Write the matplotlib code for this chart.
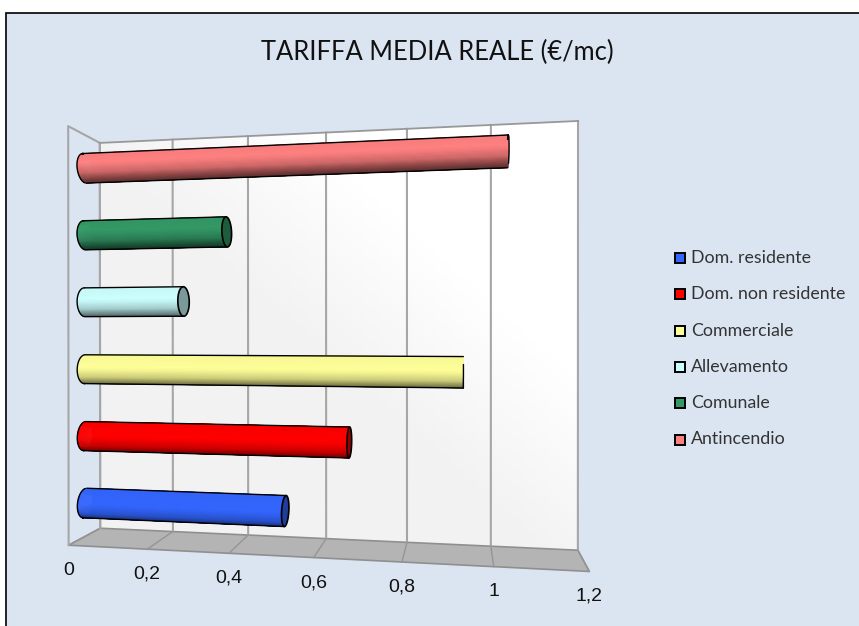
#!/usr/bin/env python3
# 3D-looking cylinder bar chart, drawn through a small camera matrix
import numpy as np
import matplotlib
matplotlib.use("Agg")
import matplotlib.pyplot as plt
from matplotlib.collections import PolyCollection
from matplotlib.patches import Polygon, Rectangle
from matplotlib.colors import to_rgb

W, H = 859, 626

categories = ["Dom. residente", "Dom. non residente", "Commerciale",
              "Allevamento", "Comunale", "Antincendio"]
values = [0.515, 0.67, 0.935, 0.26, 0.37, 1.035]
colors = ["#3366FF", "#FF0000", "#FFFF99", "#CCFFFF", "#339966", "#FF8080"]
tick_values = [0, 0.2, 0.4, 0.6, 0.8, 1.0, 1.2]
tick_labels = ["0", "0,2", "0,4", "0,6", "0,8", "1", "1,2"]
title = "TARIFFA MEDIA REALE (€/mc)"

# camera fit: (value, category, depth) -> pixel
back_y = 6
refs = [
    (0, 0, 0, 100, 528), (0.2, 0, 0, 173, 532), (0.4, 0, 0, 248, 535),
    (0.6, 0, 0, 326, 539), (0.8, 0, 0, 407, 543), (1.0, 0, 0, 491, 546),
    (1.2, 0, 0, 578, 549), (0, back_y, 0, 100, 143), (1.2, back_y, 0, 578, 121),
    (0, 0, 1, 68, 545), (0.2, 0, 1, 148, 549), (0.4, 0, 1, 230, 553),
    (0.8, 0, 1, 401, 562), (1.0, 0, 1, 493, 567), (1.2, 0, 1, 590, 572),
    (0, back_y, 1, 68, 126),
]
A, b = [], []
for v, c, d, x, y in refs:
    A.append([v, c, d, 1, 0, 0, 0, 0, -x*v, -x*c, -x*d])
    A.append([0, 0, 0, 0, v, c, d, 1, -y*v, -y*c, -y*d])
    b += [x, y]
sol = np.linalg.lstsq(np.array(A, float), np.array(b, float), rcond=None)[0]
P = np.append(sol, 1.0).reshape(3, 4)


def project(v, c, d):
    v, c, d = np.broadcast_arrays(np.asarray(v, float), np.asarray(c, float), np.asarray(d, float))
    pts = np.stack([v, c, d, np.ones_like(v)], axis=-1) @ P.T
    return pts[..., :2] / pts[..., 2:]


def shade(col, t):
    # t=0 at the top of the tube, t=1 at the bottom
    k = np.interp(t, [0, 0.45, 0.75, 1], [0.97, 1.0, 0.8, 0.38])
    return tuple(np.array(to_rgb(col)) * k)


def signed_area(p):
    x, y = p[:, 0], p[:, 1]
    return 0.5*np.sum(x*np.roll(y, -1) - np.roll(x, -1)*y)


fig = plt.figure(figsize=(W/100, H/100), dpi=100, facecolor="white")
ax = fig.add_axes([0, 0, 1, 1])
ax.set_xlim(0, W)
ax.set_ylim(H, 0)
ax.axis("off")

# panel
ax.add_patch(Rectangle((6, 13), W, H, fc="#DBE5F1", ec="black", lw=1.2, zorder=0))

# back wall with its soft gradient
wall = np.vstack([project(0, 0, 0), project(1.2, 0, 0), project(1.2, back_y, 0), project(0, back_y, 0)])
gx, gy = np.meshgrid(np.linspace(0, 1, 80), np.linspace(0, 1, 80))
grad = np.clip((gx + (1-gy)) - 0.9, 0, 1)
im = ax.imshow(grad, extent=(100, 578, 549, 121), cmap=matplotlib.colors.LinearSegmentedColormap.from_list(
    "wall", ["#F2F2F2", "#FFFFFF"]), vmin=0, vmax=0.5, aspect="auto", zorder=1)
im.set_clip_path(Polygon(wall, transform=ax.transData))
ax.set_xlim(0, W)
ax.set_ylim(H, 0)

# floor
floor = np.vstack([project(0, 0, 0), project(1.2, 0, 0), project(1.2, 0, 1), project(0, 0, 1)])
ax.add_patch(Polygon(floor, fc="#B4B4B4", ec="#8F8F8F", lw=1.2, zorder=2))

grid_col = "#A6A6A6"
for v in tick_values:
    p = np.vstack([project(v, back_y, 0), project(v, 0, 0), project(v, 0, 1)])
    ax.plot(p[:2, 0], p[:2, 1], color=grid_col, lw=1.5, zorder=2)
    ax.plot(p[1:, 0], p[1:, 1], color="#959595", lw=1.0, zorder=2)
p = np.vstack([project(0, 0, 1), project(0, back_y, 1), project(0, back_y, 0), project(0, 0, 0)])
ax.plot(p[:, 0], p[:, 1], color=grid_col, lw=1.5, zorder=2)
p = np.vstack([project(0, back_y, 0), project(1.2, back_y, 0)])
ax.plot(p[:, 0], p[:, 1], color="#989898", lw=1.3, zorder=2)

# cylinders
rc, rd = 0.215, 0.24
theta = np.linspace(0, 2*np.pi, 91)
for i, (val, col) in enumerate(zip(values, colors)):
    c0 = i + 0.5
    ct = c0 + rc*np.sin(theta)
    dt = 0.5 + rd*np.cos(theta)
    start = project(0, ct, dt)
    end = project(val, ct, dt)
    polys, cols, depth = [], [], []
    for k in range(len(theta)-1):
        polys.append([start[k], end[k], end[k+1], start[k+1]])
        cols.append(shade(col, (1 - np.sin(theta[k]))/2))
        depth.append(dt[k])
    order = np.argsort(depth)
    ax.add_collection(PolyCollection([polys[j] for j in order], facecolors=[cols[j] for j in order],
                                     edgecolors=[cols[j] for j in order], linewidths=0.4, zorder=3))
    # silhouette
    ca, cb = project(0, c0, 0.5), project(val, c0, 0.5)
    axis_dir = (cb - ca)/np.linalg.norm(cb - ca)
    normal = np.array([-axis_dir[1], axis_dir[0]])
    s_top, s_bot = np.argmin((start - ca) @ normal), np.argmax((start - ca) @ normal)
    e_top, e_bot = np.argmin((end - cb) @ normal), np.argmax((end - cb) @ normal)
    edge = dict(color="black", lw=1.0, zorder=5, solid_capstyle="round")
    ax.plot([start[s_top, 0], end[e_top, 0]], [start[s_top, 1], end[e_top, 1]], **edge)
    ax.plot([start[s_bot, 0], end[e_bot, 0]], [start[s_bot, 1], end[e_bot, 1]], **edge)
    left = start[(start - ca) @ axis_dir <= 0.01]
    left = left[np.argsort((left - ca) @ normal)]
    ax.plot(left[:, 0], left[:, 1], **edge)
    if signed_area(end)*signed_area(start) > 0:
        ax.add_patch(Polygon(end, fc=tuple(np.array(to_rgb(col))*0.6), ec="black", lw=1.2, zorder=4))
    else:
        right = end[(end - cb) @ axis_dir >= -0.01]
        right = right[np.argsort((right - cb) @ normal)]
        ax.plot(right[:, 0], right[:, 1], **edge)

# value labels, under the front edge of the floor
for v, lab in zip(tick_values, tick_labels):
    x, y = project(v, 0, 1)
    ax.text(x, y + 25, lab, family="Liberation Sans", fontsize=14, ha="center", va="center",
            color="#111111", zorder=6)

ax.text(437, 52, title, family="Lato", fontsize=18.4, ha="center", va="center", color="#111111", zorder=6)

# legend
for i, (name, col) in enumerate(zip(categories, colors)):
    y = 258 + i*36.3
    ax.add_patch(Rectangle((674.5, y - 5), 10, 10, fc=col, ec="black", lw=1.4, zorder=6))
    ax.text(691, y, name, family="Lato", fontsize=12.8, ha="left", va="center", color="#333333", zorder=6)

fig.savefig("out.png", dpi=100, facecolor="white")
